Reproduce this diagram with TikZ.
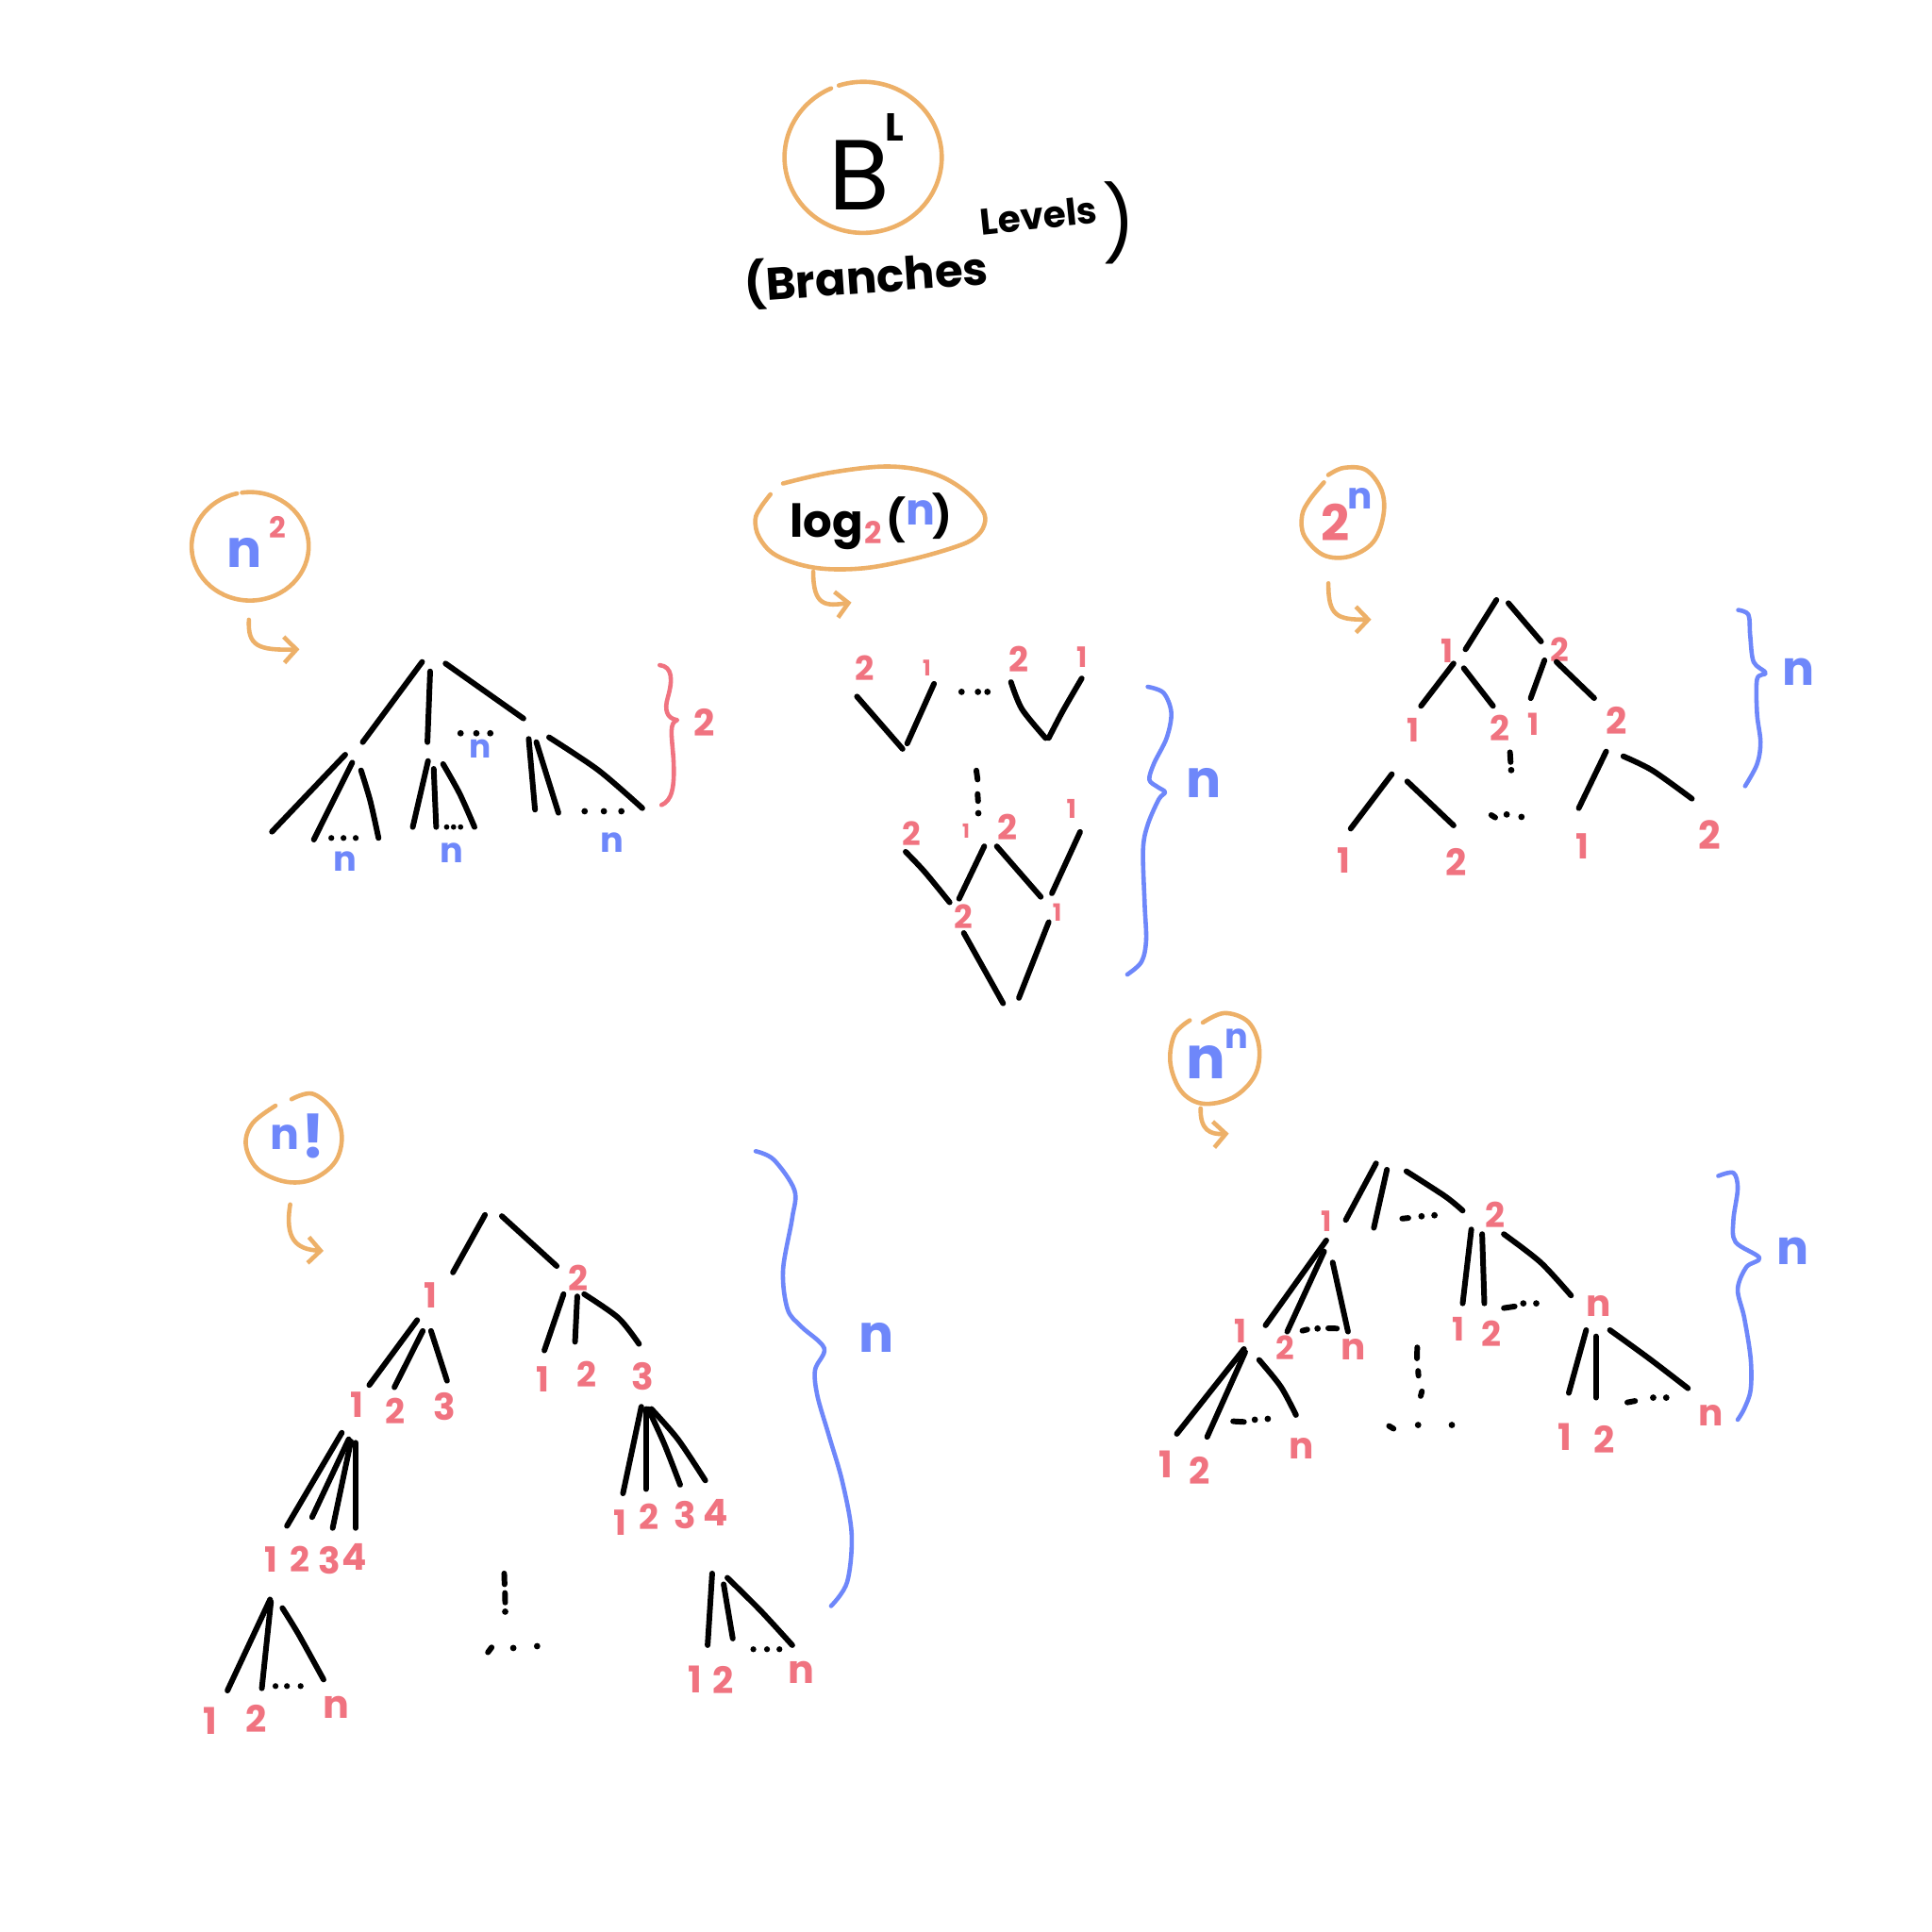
\documentclass[tikz,border=0pt]{standalone}
\usepackage{fontspec}
\setmainfont{Poppins}
\usetikzlibrary{arrows.meta}

\definecolor{sketchorange}{HTML}{EDB068}
\definecolor{sketchred}{HTML}{F07380}
\definecolor{sketchblue}{HTML}{6E87FA}

\newcommand{\lblsize}[1]{\fontsize{#1}{#1}\selectfont}

\tikzset{
  branch/.style={black, line width=2.6pt, line cap=round, line join=round},
  ring/.style={sketchorange, line width=2pt, line cap=round, line join=round},
  hook/.style={ring, -{Straight Barb[length=0.2cm, width=0.42cm]}},
  brace/.style={line width=2pt, line cap=round, line join=round},
  digit/.style={text=sketchred, inner sep=0pt, font=\bfseries\lblsize{#1}},
  digit/.default=16,
  nvar/.style={text=sketchblue, inner sep=0pt, font=\bfseries\lblsize{#1}},
  nvar/.default=17,
  word/.style={text=black, inner sep=0pt, font=\lblsize{#1}},
  word/.default=20,
  heavy/.style={text=black, inner sep=0pt, font=\bfseries\lblsize{#1}},
  heavy/.default=20
}

\begin{document}
\begin{tikzpicture}[x=0.02cm, y=-0.02cm]

\useasboundingbox[fill=white] (0,0) rectangle (1568,1568);

% title
\draw[ring] (700.5,127.7) ++(252:63.8 and 61.3) arc[start angle=252, end angle=606, x radius=63.8, y radius=61.3];
\node[word=46] (base) at (697,142) {B};
\node[heavy=18] (power) at (726,103.5) {L};
\node[heavy=21, rotate=4] (branches) at (703,225) {(Branches};
\node[heavy=17, rotate=6] (levels) at (843,175) {Levels};
\node[word=34] (close) at (908,181) {)};

% n^2
\draw[ring] (203,443.4) ++(262:47.5 and 44) arc[start angle=262, end angle=617, x radius=47.5, y radius=44];
\node[nvar=24] (sqbase) at (198.5,449) {n};
\node[digit=13.5] (sqexp) at (225,428) {2};
\draw[hook] (202,503) .. controls (201,524) and (209,528) .. (243,527);

\draw[branch] (342.6,537.2) -- (294.4,602.3);
\draw[branch] (349.1,544.9) -- (346.9,602.3);
\draw[branch] (361.6,538.5) -- (424.8,583.1);
\foreach \x in {373.8,386.6,397.9} \fill (\x,595.1) circle[radius=2.6];
\node[nvar=15] (sqn) at (390,608) {n};

\draw[branch] (280.2,612.5) -- (220.7,675);
\draw[branch] (285.9,618.9) -- (254.7,681.4);
\draw[branch] plot[smooth] coordinates {(293,625.2) (300.5,650) (307.2,680.1)};
\foreach \x in {268.9,278.8,288.7} \fill (\x,680.1) circle[radius=2.4];
\node[nvar=16] (sqna) at (280,699) {n};

\draw[branch] (347.4,617.6) -- (335,671.2);
\draw[branch] (352,624) -- (354,671.2);
\draw[branch] plot[smooth] coordinates {(359.6,620.1) (373,644) (385.1,671.2)};
\foreach \x in {362.5,368.1,373.8} \fill (\x,671.2) circle[radius=2.2];
\node[nvar=16] (sqnb) at (367,692) {n};

\draw[branch] (429.1,599.7) -- (434.2,657.1);
\draw[branch] (435.3,602.3) -- (453.2,659.7);
\draw[branch] plot[smooth] coordinates {(445.6,598.4) (485.8,625.2) (521.3,655.9)};
\foreach \x in {474.5,490.1,504.3} \fill (\x,658.4) circle[radius=2.6];
\node[nvar=16] (sqnc) at (497,684) {n};

\draw[brace, sketchred] (535.4,539.8) .. controls (546,541) and (546,552) .. (542,566)
  .. controls (539,576) and (541,583) .. (549.6,584.4)
  .. controls (543,587) and (545,595) .. (546.5,615)
  .. controls (548,640) and (545,650) .. (536.9,653.3);
\node[digit=17] (sqdepth) at (571.6,586.3) {2};

% log2(n)
\draw[ring] plot[smooth, tension=0.6] coordinates {(635.5,392.4) (673.8,383.6) (719.7,378.6) (755.4,383.6) (781,396.8) (797.5,414.4) (798.8,426.1) (791.2,436.4) (775.8,443.7) (740.1,453.9) (699.3,461.3) (661,460.7) (630.4,451) (616.3,436.4) (613,421.7) (617.6,411.5) (625.3,401.2)};
\node[heavy=21, anchor=base] (logword) at (671,436.4) {log};
\node[digit=14] (logbase) at (709,432) {2};
\node[heavy=19] (logopen) at (727,421.7) {(};
\node[nvar=20] (logn) at (747,415.9) {n};
\node[heavy=19] (logclose) at (765,418.7) {)};
\draw[hook] (660,464) .. controls (660,492) and (670,492) .. (691,489);

\draw[branch] (695.5,565.3) -- (732.5,607.8);
\draw[branch] (758,555) -- (736.3,603.4);
\node[digit=15.5] (la) at (701.9,542.6) {2};
\node[digit=10] (lb) at (752.2,541.8) {1};
\foreach \x in {780.4,793.7,801.4} \fill (\x,561.5) circle[radius=2.6];
\draw[branch] plot[smooth] coordinates {(820.5,553.6) (829.4,575.5) (848.6,599)};
\draw[branch] plot[smooth] coordinates {(877.9,550.6) (862.6,577) (851.1,599)};
\node[digit=16] (lc) at (826.9,535.3) {2};
\node[digit=13] (ld) at (878.6,533) {1};

\draw[branch] (792.4,625.3) -- (793.4,632.7);
\draw[branch] (793.4,644.4) -- (793.8,650.2);
\fill (794,660) circle[radius=2.6];

\draw[branch] plot[smooth] coordinates {(735,691.3) (750.3,707.4) (770.7,732.3)};
\draw[branch] (798.8,686.9) -- (778.4,729.4);
\node[digit=15] (le) at (740.2,676.6) {2};
\node[digit=9] (lf) at (784,674.4) {1};
\draw[branch] (809,686.9) -- (844.7,727.9);
\draw[branch] (876.6,675.2) -- (853.7,725);
\node[digit=16] (lg) at (817.3,671.5) {2};
\node[digit=12] (lh) at (869.6,656.1) {1};

\draw[branch] (782.2,757.2) -- (814.1,814.3);
\draw[branch] (851.1,748.4) -- (826.9,809.9);
\node[digit=15] (li) at (782.2,744) {2};
\node[digit=11] (lj) at (858,740.3) {1};

\draw[brace, sketchblue] plot[smooth, tension=0.55] coordinates {(931.5,557.4) (944.3,562.3) (950.6,578.5) (946.8,599) (936.6,619.5) (932.8,632.7) (939.2,638.5) (945.5,642.9) (940.4,648.8) (931.5,669.3) (927.7,689.8) (929,733.8) (930.2,763.1) (926.4,780.6) (914.9,790.9)};
\node[nvar=24] (logdepth) at (976.8,635.6) {n};

% 2^n
\draw[ring] plot[smooth, tension=0.6] coordinates {(1078,385.5) (1090.6,379.7) (1108.7,381.5) (1121.3,398.1) (1122.7,418.5) (1114.3,440.2) (1094.8,451.7) (1074,450.4) (1058.6,435.1) (1056.7,418.5) (1062.8,405.8) (1074.5,391.5)};
\node[digit=23] (expbase) at (1083.5,424) {2};
\node[nvar=17] (expn) at (1104,405) {n};
\draw[hook] (1078.1,473.4) .. controls (1078,500) and (1085,503) .. (1112.9,502.8);

\draw[branch] (1214.5,486.9) -- (1189.4,527);
\draw[branch] (1224.2,489.5) -- (1250.7,520.6);
\node[digit=15] (ea) at (1174.2,528.2) {1};
\node[digit=15] (eb) at (1266,527) {2};
\draw[branch] (1179.7,538.5) -- (1153.3,572.9);
\draw[branch] (1188,542.3) -- (1211.7,572.9);
\draw[branch] (1253.5,535.9) -- (1242.3,566.6);
\draw[branch] (1263.2,537.2) -- (1293.8,566.6);
\node[digit=15] (ec) at (1147,592.7) {1};
\node[digit=16] (ed) at (1217.3,590.8) {2};
\node[digit=14] (ee) at (1244.4,588.2) {1};
\node[digit=17] (ef) at (1311.9,585) {2};

\draw[branch] (1225.5,610.5) -- (1226,618.5);
\fill (1226.5,625) circle[radius=2.6];

\draw[branch] (1129.6,628.3) -- (1096.2,672.5);
\draw[branch] (1142.1,634.2) -- (1179.7,669.9);
\draw[branch] (1210.3,661.5) -- (1213.5,663.5);
\fill (1222.8,661) circle[radius=2.6];
\fill (1234.8,663) circle[radius=2.6];
\draw[branch] (1303.5,609.9) -- (1281.3,655.9);
\draw[branch] plot[smooth] coordinates {(1317.5,613.8) (1341.1,625.3) (1373.1,648.2)};
\node[digit=16] (eg) at (1090.7,698) {1};
\node[digit=17] (eh) at (1181.8,700) {2};
\node[digit=16] (ei) at (1284,687) {1};
\node[digit=18] (ej) at (1387.7,677.6) {2};

\draw[brace, sketchblue] plot[smooth, tension=0.55] coordinates {(1410.7,495.1) (1419,498.9) (1420.4,515.5) (1423.2,537.2) (1433,546.1) (1426,551.2) (1426,579.3) (1428.8,602.3) (1426,620.2) (1416.3,638)};
\node[nvar=22] (expdepth) at (1459.4,545.5) {n};

% n!
\draw[ring] plot[smooth, tension=0.6] coordinates {(236.6,892.1) (253.3,887.6) (270,900.9) (277.4,922) (271.9,943.1) (253.3,957.2) (231,958.9) (208.8,948.4) (199.5,929) (205.1,911.5) (223.6,897.4)};
\node[nvar=20] (factn) at (231,923) {n};
\node[nvar=28] (factbang) at (254,922) {!};
\draw[hook] (235.5,977.5) .. controls (231,1005) and (240,1014) .. (262.6,1015.2);

\draw[branch] (393.6,986) -- (367.6,1032.7);
\draw[branch] (407.3,987) -- (451.8,1027.5);
\node[digit=16] (fa) at (349.8,1051.2) {1};
\node[digit=16] (fb) at (469.4,1037.2) {2};

\draw[branch] (338.6,1071.4) -- (299.7,1124.1);
\draw[branch] (343.1,1080.2) -- (320.1,1125.9);
\draw[branch] (349.8,1080.2) -- (362.8,1120.6);
\node[digit=16] (fc) at (289.5,1140) {1};
\node[digit=16] (fd) at (321,1145) {2};
\node[digit=17] (fe) at (361,1141.7) {3};

\draw[branch] (457.4,1050.3) -- (441.8,1096);
\draw[branch] (468.5,1052.1) -- (466.7,1089);
\draw[branch] plot[smooth] coordinates {(474.1,1050.3) (501.9,1069.6) (518.6,1090.7)};
\node[digit=16] (ff) at (440.7,1119.7) {1};
\node[digit=16] (fg) at (476,1115.3) {2};
\node[digit=17] (fh) at (521.4,1117) {3};

\draw[branch] (277.4,1162.8) -- (232.9,1238.4);
\draw[branch] (283,1168.1) -- (253.3,1231.3);
\draw[branch] (284.8,1169.8) -- (270,1240.1);
\draw[branch] (288.6,1170.9) -- (288.6,1240.1);
\node[digit=16] (fi) at (220,1265.6) {1};
\node[digit=16] (fj) at (243.1,1265.6) {2};
\node[digit=17] (fk) at (267.8,1266.5) {3};
\node[digit=17] (fl) at (287.6,1263.9) {4};

\draw[branch] (520.5,1141.7) -- (505.6,1212);
\draw[branch] (524.2,1143.5) -- (524.2,1208.5);
\draw[branch] plot[smooth] coordinates {(526.1,1143.5) (539,1171.6) (552,1205)};
\draw[branch] plot[smooth] coordinates {(528.7,1143.5) (550.2,1168.1) (572.4,1201.5)};
\node[digit=16] (fm) at (503.4,1235.7) {1};
\node[digit=16] (fn) at (527,1231.3) {2};
\node[digit=17] (fo) at (555.8,1229.6) {3};
\node[digit=17] (fp) at (580.8,1227.8) {4};

\draw[branch] (219.2,1298.1) -- (184.6,1372);
\draw[branch] (219.9,1299.9) -- (212.5,1370.2);
\draw[branch] plot[smooth] coordinates {(229.2,1305.1) (242.2,1326.2) (262.6,1363.1)};
\foreach \x in {223.6,232.9,244} \fill (\x,1368.4) circle[radius=2.4];
\node[digit=17] (fq) at (170.7,1396.6) {1};
\node[digit=17] (fr) at (207.9,1394.8) {2};
\node[digit=18] (fs) at (272.8,1386) {n};

\draw[branch] (409.2,1277) -- (409.5,1285.8);
\draw[branch] (409.8,1292.8) -- (410,1300.6);
\fill (410,1308) circle[radius=2.6];
\draw[branch] (396,1341) -- (399,1337);
\fill (416.6,1337.5) circle[radius=2.6];
\fill (435.9,1336) circle[radius=2.6];

\draw[branch] (578,1277) -- (574.3,1335.2);
\draw[branch] (587.3,1285.8) -- (594.7,1329.8);
\draw[branch] plot[smooth] coordinates {(590.3,1280.5) (617,1306.9) (643,1335.2)};
\foreach \x in {611.4,622.5,632.6} \fill (\x,1338.5) circle[radius=2.4];
\node[digit=17] (ft) at (564.5,1363) {1};
\node[digit=17] (fu) at (587.3,1363.9) {2};
\node[digit=18] (fv) at (650.4,1357) {n};

\draw[brace, sketchblue] plot[smooth, tension=0.55] coordinates {(613.3,934.3) (628.1,941.3) (644.8,966) (642.9,988.8) (635.5,1031) (639.2,1062.6) (650.4,1076.7) (668.9,1094.2) (661.5,1111.8) (663.4,1132.9) (672.6,1164.6) (683.8,1203.2) (691.2,1245.4) (687.5,1284.1) (674.5,1303.4)};
\node[nvar=24] (factdepth) at (711.6,1085.5) {n};

% n^n
\draw[ring] plot[smooth, tension=0.6] coordinates {(976.2,829.9) (993.8,822.2) (1013.1,829.4) (1021.9,849.8) (1018.4,872.8) (1000.8,890.6) (976.2,895.7) (958.6,885.5) (949.8,862.5) (953.3,839.6) (965.6,828.1)};
\node[nvar=27] (powbase) at (979,862) {n};
\node[nvar=16] (powexp) at (1004,843) {n};
\draw[hook] (974.4,899.5) .. controls (974,917) and (982,921) .. (997.3,920);

\draw[branch] (1116.8,944.2) -- (1092.2,990.1);
\draw[branch] (1125.6,949.3) -- (1115,996.5);
\draw[branch] plot[smooth] coordinates {(1141.4,950.6) (1173,971) (1187.1,982.5)};
\draw[branch] (1138,989) -- (1143,988.5);
\fill (1153.7,987.1) circle[radius=2.6];
\fill (1164.2,986.3) circle[radius=2.6];
\node[digit=13] (pa) at (1076.4,991.4) {1};
\node[digit=16] (pb) at (1213.5,985.7) {2};

\draw[branch] (1076.4,1006.7) -- (1027.1,1075.6);
\draw[branch] (1074.6,1015.7) -- (1044.7,1080.7);
\draw[branch] (1081.6,1024.6) -- (1094,1080.7);
\draw[branch] (1057,1080) -- (1061,1079);
\fill (1069.3,1078.2) circle[radius=2.6];
\draw[branch] (1078,1078) -- (1085,1078.2);
\node[digit=15] (pc) at (1007,1080) {1};
\node[digit=15] (pd) at (1043,1094.1) {2};
\node[digit=17] (pe) at (1098.3,1095.4) {n};

\draw[branch] (1194.1,997.8) -- (1187.1,1057.8);
\draw[branch] (1202.9,1001.6) -- (1204.7,1057.8);
\draw[branch] plot[smooth] coordinates {(1220.5,1001.6) (1250.4,1024.6) (1275,1051.4)};
\draw[branch] (1220.5,1061.6) -- (1229.3,1060.3);
\fill (1236.3,1057.8) circle[radius=2.6];
\fill (1246.8,1057.8) circle[radius=2.6];
\node[digit=15] (pf) at (1183.6,1078.9) {1};
\node[digit=16] (pg) at (1210.8,1082.7) {2};
\node[digit=17] (ph) at (1297.8,1059.7) {n};

\draw[branch] (1009.6,1094.8) -- (955.1,1163.7);
\draw[branch] (1010.6,1097.3) -- (979.7,1166.2);
\draw[branch] plot[smooth] coordinates {(1021.9,1103.7) (1039.5,1125.4) (1051.8,1148.4)};
\draw[branch] (1000.8,1153.5) -- (1009.6,1154);
\fill (1018.4,1152.2) circle[radius=2.6];
\fill (1028.9,1151.5) circle[radius=2.6];
\node[digit=17] (pi) at (946.3,1188.5) {1};
\node[digit=17] (pj) at (973.5,1193.6) {2};
\node[digit=17] (pk) at (1056.1,1175.8) {n};

\draw[branch] (1150.2,1093.5) -- (1150,1102.4);
\draw[branch] (1150.9,1112.6) -- (1151.2,1116.5);
\draw[branch] (1154,1129.2) -- (1153,1133);
\draw[branch] (1127.3,1157.3) -- (1131,1159.5);
\fill (1150.9,1156.5) circle[radius=2.6];
\fill (1178.3,1156.5) circle[radius=2.6];

\draw[branch] (1287.3,1079.5) -- (1273.2,1130.5);
\draw[branch] (1295.3,1084.6) -- (1295.3,1134.3);
\draw[branch] plot[smooth] coordinates {(1306.6,1079.5) (1338.2,1102.4) (1369.9,1126.7)};
\draw[branch] (1320.7,1138.2) -- (1327,1137);
\fill (1341.7,1134.3) circle[radius=2.6];
\fill (1352.3,1134.3) circle[radius=2.6];
\node[digit=17] (pl) at (1269.7,1166.2) {1};
\node[digit=17] (pm) at (1302.2,1168.1) {2};
\node[digit=17] (pn) at (1388.3,1149) {n};

\draw[brace, sketchblue] plot[smooth, tension=0.55] coordinates {(1394.5,954.4) (1406.8,951.9) (1410.3,964.6) (1406.8,990.1) (1408.5,1008) (1427.9,1020.8) (1417.3,1028.4) (1410.3,1046.3) (1415.6,1069.3) (1420.8,1102.4) (1420.8,1127.9) (1415.6,1143.3) (1410.3,1152.2)};
\node[nvar=22] (powdepth) at (1455.1,1015.7) {n};

\end{tikzpicture}
\end{document}
